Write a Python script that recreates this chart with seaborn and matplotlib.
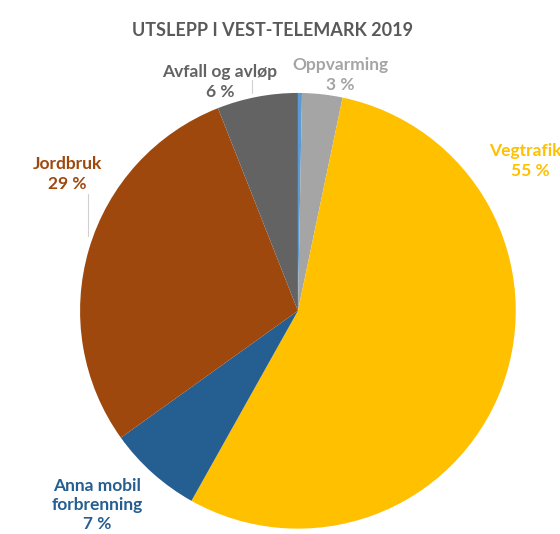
import matplotlib
matplotlib.use("Agg")
import matplotlib.pyplot as plt
import seaborn as sns

# data (share of emissions, %), clockwise from top
categories = ["", "Oppvarming", "Vegtrafikk", "Anna mobil\nforbrenning", "Jordbruk", "Avfall og avløp"]
shares = [0.3, 3, 55, 7, 29, 6]
pct_labels = ["", "3 %", "55 %", "7 %", "29 %", "6 %"]
colors = ["#5B9BD5", "#A5A5A5", "#FFC000", "#255E91", "#9E480E", "#636363"]

sns.set_theme(style="white")
plt.rcParams["font.family"] = ["Lato", "DejaVu Sans"]

fig = plt.figure(figsize=(5.6, 5.34), dpi=100)
ax = fig.add_axes([0.143, 0.010, 0.778, 0.816])

ax.pie(shares, colors=colors, startangle=90, counterclock=False,
       wedgeprops=dict(linewidth=0))
ax.set_xlim(-1, 1)
ax.set_ylim(-1, 1)
ax.set_aspect("equal")

fig.text(272 / 560, 1 - 30 / 534, "UTSLEPP I VEST-TELEMARK 2019", ha="center", va="center",
         fontsize=13, fontweight="bold", color="#595959")

# labels (pixel positions in the 560x534 picture)
label_pos = {1: (340, 75), 2: (530, 161), 3: (97, 505), 4: (67, 174), 5: (220, 82)}
W, H = 560, 534
for i, (px, py) in label_pos.items():
    fig.text(px / W, 1 - py / H, categories[i] + "\n" + pct_labels[i],
             ha="center", va="center", fontsize=12.5, fontweight="bold",
             color=colors[i], linespacing=1.25)

# leader lines
for (x, y0, y1) in [(88, 194, 236), (252, 80, 93)]:
    fig.add_artist(plt.Line2D([x / W, x / W], [1 - y0 / H, 1 - y1 / H],
                              color="#D0D0D0", linewidth=0.8))

fig.savefig("out.png", dpi=100)
